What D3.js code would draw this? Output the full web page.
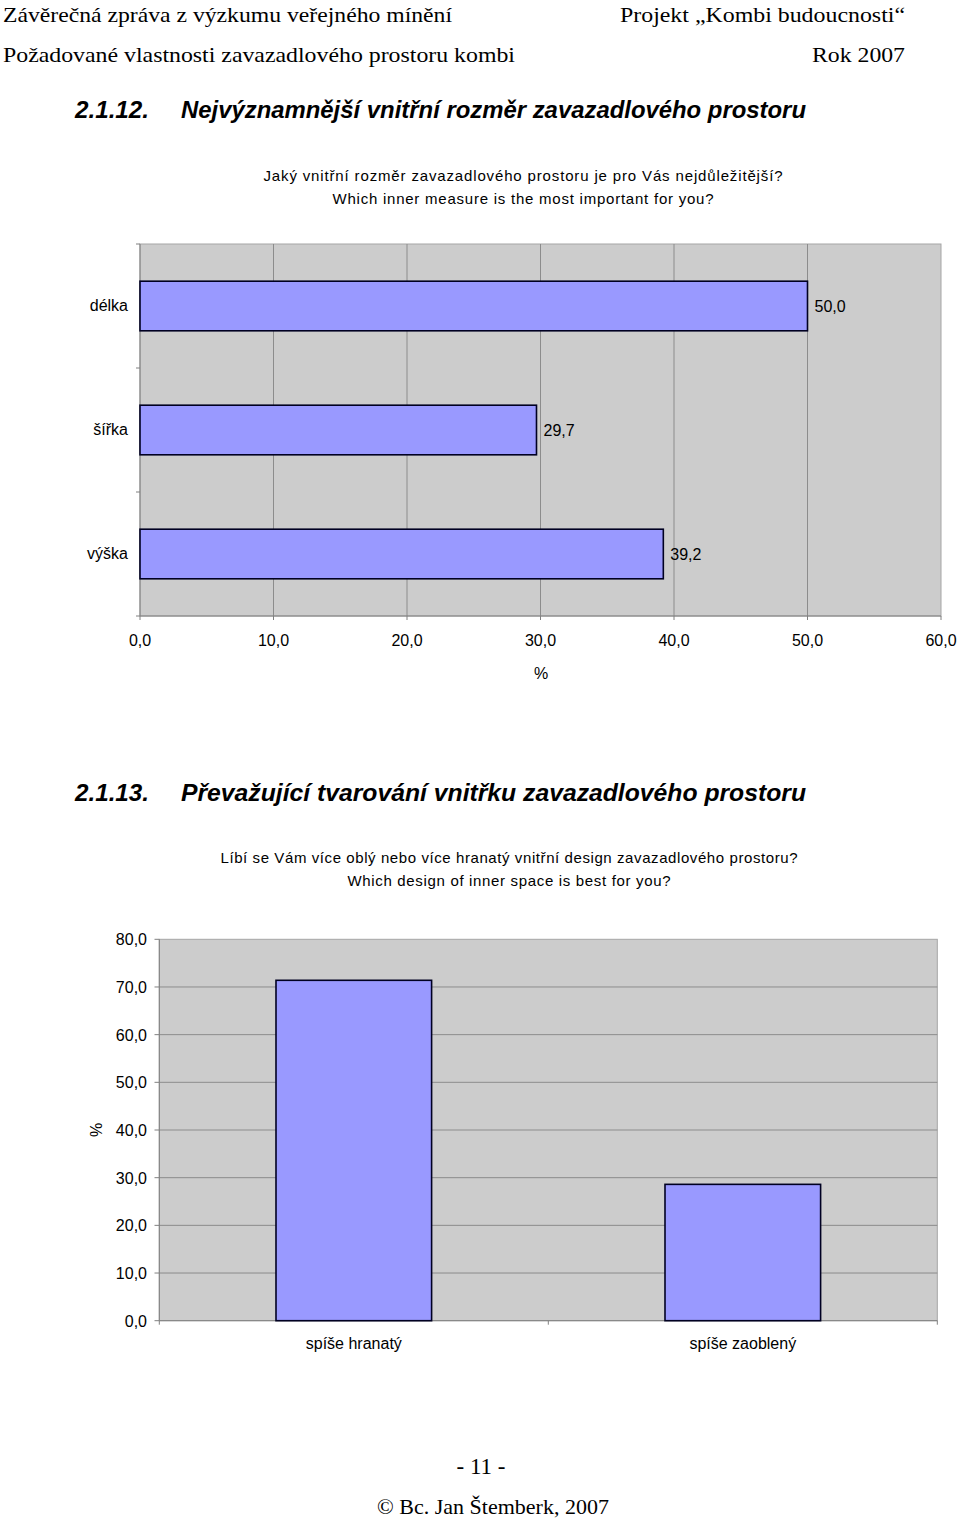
<!DOCTYPE html>
<html><head><meta charset="utf-8">
<script src="https://cdn.jsdelivr.net/npm/d3@7"></script>
<style>
html,body{margin:0;padding:0;background:#fff;}
svg text{fill:#000;}
</style></head>
<body>
<svg id="page" width="960" height="1522"></svg>
<script>
// ---- data ----
const measureCategories = ["délka", "šířka", "výška"];
const measureValues = [50.0, 29.7, 39.2];
const measureTicks = [0, 10, 20, 30, 40, 50, 60];

const designCategories = ["spíše hranatý", "spíše zaoblený"];
const designValues = [71.4, 28.6];
const designTicks = [0, 10, 20, 30, 40, 50, 60, 70, 80];

const headerLeft = ["Závěrečná zpráva z výzkumu veřejného mínění", "Požadované vlastnosti zavazadlového prostoru kombi"];
const headerRight = ["Projekt „Kombi budoucnosti“", "Rok 2007"];
const title1 = ["2.1.12.", "Nejvýznamnější vnitřní rozměr zavazadlového prostoru"];
const question1 = ["Jaký vnitřní rozměr zavazadlového prostoru je pro Vás nejdůležitější?", "Which inner measure is the most important for you?"];
const title2 = ["2.1.13.", "Převažující tvarování vnitřku zavazadlového prostoru"];
const question2 = ["Líbí se Vám více oblý nebo více hranatý vnitřní design zavazadlového prostoru?", "Which design of inner space is best for you?"];
const footer = ["- 11 -", "© Bc. Jan Štemberk, 2007"];

// layout (text widths measured from the page)
const headerLeftW = [449, 512];
const headerRightW = [285, 93];
const question1W = [519, 381];
const question2W = [577, 323];

const cz = d3.formatLocale({decimal: ",", thousands: " ", grouping: [3], currency: ["", ""]});
const fmt = cz.format(".1f");

const svg = d3.select("#page");
const serif = "'Liberation Serif','Times New Roman',serif";
const sans = "'Liberation Sans',Arial,sans-serif";

// ---- header ----
svg.selectAll("text.hl").data(headerLeft).join("text")
  .attr("x", 3).attr("y", (d, i) => 22 + i * 40)
  .attr("font-family", serif).attr("font-size", 22)
  .attr("textLength", (d, i) => headerLeftW[i]).attr("lengthAdjust", "spacingAndGlyphs").text(d => d);
svg.selectAll("text.hr").data(headerRight).join("text")
  .attr("x", (d, i) => 905 - headerRightW[i]).attr("y", (d, i) => 22 + i * 40)
  .attr("font-family", serif).attr("font-size", 22)
  .attr("textLength", (d, i) => headerRightW[i]).attr("lengthAdjust", "spacingAndGlyphs").text(d => d);

function heading(t, y) {
  svg.append("text").attr("x", 75).attr("y", y).attr("font-family", sans)
    .attr("font-weight", "bold").attr("font-style", "italic").attr("font-size", 23)
    .attr("textLength", 74).attr("lengthAdjust", "spacingAndGlyphs").text(t[0]);
  svg.append("text").attr("x", 181).attr("y", y).attr("font-family", sans)
    .attr("font-weight", "bold").attr("font-style", "italic").attr("font-size", 23)
    .attr("textLength", 625).attr("lengthAdjust", "spacingAndGlyphs").text(t[1]);
}
function question(q, widths, cx, y) {
  q.forEach((s, i) => svg.append("text").attr("x", cx - widths[i] / 2).attr("y", y + i * 22.5)
    .attr("font-family", sans).attr("font-size", 15)
    .attr("textLength", widths[i]).attr("lengthAdjust", "spacing").text(s));
}
heading(title1, 118);
question(question1, question1W, 523, 181);
heading(title2, 801);
question(question2, question2W, 509, 863);

// ---- chart 1: horizontal bars ----
{
  const x = d3.scaleLinear().domain([0, 60]).range([140, 941]);
  const y = d3.scaleBand().domain(measureCategories).range([244, 616]).paddingInner(0.6).paddingOuter(0.3);
  const band = d3.scaleBand().domain(measureCategories).range([244, 616]);
  const g = svg.append("g");
  g.append("rect").attr("x", x(0)).attr("y", 244).attr("width", x(60) - x(0)).attr("height", 372)
    .attr("fill", "#cccccc").attr("stroke", "#a6a6a6").attr("stroke-width", 1);
  g.selectAll("line.grid").data(measureTicks.slice(1, -1)).join("line")
    .attr("x1", d => x(d)).attr("x2", d => x(d)).attr("y1", 244).attr("y2", 616)
    .attr("stroke", "#8c8c8c").attr("stroke-width", 1);
  const bounds = measureCategories.map(c => band(c)).concat([616]);
  g.selectAll("line.ct").data(bounds).join("line")
    .attr("x1", 136).attr("x2", 140).attr("y1", d => d).attr("y2", d => d)
    .attr("stroke", "#808080");
  g.append("line").attr("x1", 140).attr("x2", 140).attr("y1", 244).attr("y2", 616).attr("stroke", "#808080");
  g.append("line").attr("x1", 140).attr("x2", 941).attr("y1", 616).attr("y2", 616).attr("stroke", "#808080");
  g.selectAll("line.xt").data(measureTicks).join("line")
    .attr("x1", d => x(d)).attr("x2", d => x(d)).attr("y1", 616).attr("y2", 620).attr("stroke", "#808080");
  g.selectAll("text.xl").data(measureTicks).join("text")
    .attr("x", d => x(d)).attr("y", 646).attr("text-anchor", "middle")
    .attr("font-family", sans).attr("font-size", 16).text(d => fmt(d));
  g.append("text").attr("x", 541).attr("y", 679).attr("text-anchor", "middle")
    .attr("font-family", sans).attr("font-size", 16).text("%");
  g.selectAll("rect.bar").data(measureValues).join("rect")
    .attr("x", x(0)).attr("y", (d, i) => y(measureCategories[i]))
    .attr("width", d => x(d) - x(0)).attr("height", y.bandwidth())
    .attr("fill", "#9999ff").attr("stroke", "#000022").attr("stroke-width", 1.6);
  g.selectAll("text.cl").data(measureCategories).join("text")
    .attr("x", 128).attr("y", d => band(d) + band.bandwidth() / 2 + 5)
    .attr("text-anchor", "end").attr("font-family", sans).attr("font-size", 16).text(d => d);
  g.selectAll("text.vl").data(measureValues).join("text")
    .attr("x", d => x(d) + 7).attr("y", (d, i) => y(measureCategories[i]) + y.bandwidth() / 2 + 6)
    .attr("font-family", sans).attr("font-size", 16).text(d => fmt(d));
}

// ---- chart 2: vertical bars ----
{
  const x = d3.scaleBand().domain(designCategories).range([159.3, 937.3]).paddingInner(0.6).paddingOuter(0.3);
  const band = d3.scaleBand().domain(designCategories).range([159.3, 937.3]);
  const y = d3.scaleLinear().domain([0, 80]).range([1320.7, 939.3]);
  const g = svg.append("g");
  g.append("rect").attr("x", 159.3).attr("y", y(80)).attr("width", 778).attr("height", y(0) - y(80))
    .attr("fill", "#cccccc").attr("stroke", "#a6a6a6").attr("stroke-width", 1);
  g.selectAll("line.grid").data(designTicks.slice(1, -1)).join("line")
    .attr("x1", 159.3).attr("x2", 937.3).attr("y1", d => y(d)).attr("y2", d => y(d))
    .attr("stroke", "#8c8c8c").attr("stroke-width", 1);
  g.append("line").attr("x1", 159.3).attr("x2", 159.3).attr("y1", y(80)).attr("y2", y(0)).attr("stroke", "#808080");
  g.append("line").attr("x1", 159.3).attr("x2", 937.3).attr("y1", y(0)).attr("y2", y(0)).attr("stroke", "#808080");
  g.selectAll("line.yt").data(designTicks).join("line")
    .attr("x1", 154.5).attr("x2", 159.3).attr("y1", d => y(d)).attr("y2", d => y(d)).attr("stroke", "#808080");
  const bounds = designCategories.map(c => band(c)).concat([937.3]);
  g.selectAll("line.ct").data(bounds).join("line")
    .attr("x1", d => d).attr("x2", d => d).attr("y1", y(0)).attr("y2", y(0) + 4).attr("stroke", "#808080");
  g.selectAll("text.yl").data(designTicks).join("text")
    .attr("x", 147).attr("y", d => y(d) + 6).attr("text-anchor", "end")
    .attr("font-family", sans).attr("font-size", 16).text(d => fmt(d));
  g.append("text").attr("transform", "translate(102,1130) rotate(-90)").attr("text-anchor", "middle")
    .attr("font-family", sans).attr("font-size", 16).text("%");
  g.selectAll("rect.bar").data(designValues).join("rect")
    .attr("x", (d, i) => x(designCategories[i])).attr("y", d => y(d))
    .attr("width", x.bandwidth()).attr("height", d => y(0) - y(d))
    .attr("fill", "#9999ff").attr("stroke", "#000022").attr("stroke-width", 1.6);
  g.selectAll("text.cl").data(designCategories).join("text")
    .attr("x", d => band(d) + band.bandwidth() / 2).attr("y", 1349).attr("text-anchor", "middle")
    .attr("font-family", sans).attr("font-size", 16).text(d => d);
}

// ---- footer ----
svg.append("text").attr("x", 481).attr("y", 1474).attr("text-anchor", "middle")
  .attr("font-family", serif).attr("font-size", 23).text(footer[0]);
svg.append("text").attr("x", 493).attr("y", 1514).attr("text-anchor", "middle")
  .attr("font-family", serif).attr("font-size", 22).text(footer[1]);
</script>
</body></html>
